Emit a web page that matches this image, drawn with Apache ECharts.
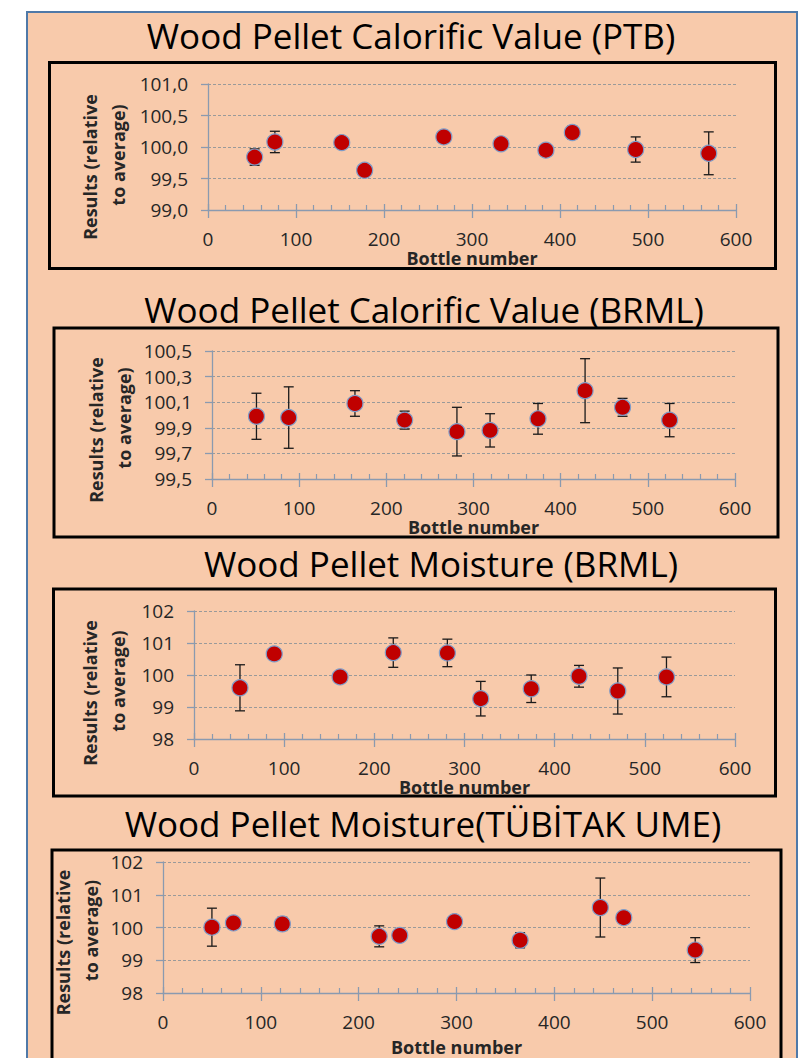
<!DOCTYPE html>
<html>
<head>
<meta charset="utf-8">
<title>Wood Pellet - homogeneity</title>
<script src="https://cdn.jsdelivr.net/npm/echarts@6/dist/echarts.min.js"></script>
<style>
  html, body { margin: 0; padding: 0; background: #fff; }
  #main { width: 800px; height: 1058px; }
</style>
</head>
<body>
<div id="main"></div>
<script>
// ---- data ----
// calorific value, PTB
var ptbBottle = [53, 76, 152, 178, 268, 333, 384, 414, 486, 569];
var ptbResult = [99.84, 100.08, 100.07, 99.63, 100.16, 100.05, 99.95, 100.23, 99.96, 99.90];
var ptbUnc    = [0.13, 0.17, 0.05, 0.05, 0.05, 0.05, 0.05, 0.10, 0.20, 0.34];

// calorific value, BRML
var brmlCalBottle = [51, 88, 164, 221, 281, 319, 374, 428, 471, 525];
var brmlCalResult = [99.99, 99.98, 100.09, 99.96, 99.87, 99.88, 99.97, 100.19, 100.06, 99.96];
var brmlCalUnc    = [0.18, 0.24, 0.10, 0.07, 0.19, 0.13, 0.12, 0.25, 0.07, 0.13];

// moisture, BRML
var brmlMoistBottle = [51, 89, 162, 221, 281, 318, 374, 427, 470, 524];
var brmlMoistResult = [99.60, 100.66, 99.94, 100.70, 100.69, 99.26, 99.57, 99.96, 99.50, 99.94];
var brmlMoistUnc    = [0.72, 0.10, 0.10, 0.46, 0.43, 0.54, 0.43, 0.34, 0.72, 0.62];

// moisture, TÜBİTAK UME
var umeBottle = [50, 72, 122, 221, 242, 298, 365, 447, 471, 544];
var umeResult = [100.01, 100.14, 100.11, 99.73, 99.76, 100.18, 99.61, 100.61, 100.30, 99.31];
var umeUnc    = [0.58, 0.10, 0.20, 0.32, 0.10, 0.10, 0.23, 0.90, 0.10, 0.38];

var titles = [
  'Wood Pellet Calorific Value (PTB)',
  'Wood Pellet Calorific Value (BRML)',
  'Wood Pellet Moisture (BRML)',
  'Wood Pellet Moisture(TÜBİTAK UME)'
];
var xName = 'Bottle number';
var yName = '{a|Results (relative}\n{b|to average)}';

// ---- layout ----
var FONT = 'Open Sans';
var panels = [
  { bottle: ptbBottle, result: ptbResult, unc: ptbUnc, ymin: 99, ymax: 101, step: 0.5, dec: 1,
    tx: 406, ty: 13, box: [49.5, 62.5, 726, 206], grid: [208, 84, 528, 126], yGap: 76, yShift: 40, xGap: 37 },
  { bottle: brmlCalBottle, result: brmlCalResult, unc: brmlCalUnc, ymin: 99.5, ymax: 100.5, step: 0.2, dec: 1,
    tx: 419, ty: 287, box: [54, 328, 724, 209], grid: [212, 351, 523, 128], yGap: 73, yShift: 30, xGap: 38 },
  { bottle: brmlMoistBottle, result: brmlMoistResult, unc: brmlMoistUnc, ymin: 98, ymax: 102, step: 1, dec: 0,
    tx: 436, ty: 541, box: [53.5, 589, 722, 207], grid: [194, 611, 541, 128], yGap: 62, yShift: 36, xGap: 33 },
  { bottle: umeBottle, result: umeResult, unc: umeUnc, ymin: 98, ymax: 102, step: 1, dec: 0,
    tx: 418, ty: 801, box: [52, 850, 729, 230], grid: [163, 862, 587, 131], yGap: 53, yShift: 30, xGap: 46 }
];

var axisGrey = '#8a9ab0';
var labelCol = '#262626';

function errorBar(params, api) {
  var x = api.value(0);
  var a = api.coord([x, api.value(2)]);
  var b = api.coord([x, api.value(1)]);
  var st = { stroke: '#1a1a1a', lineWidth: 1.3 };
  return {
    type: 'group',
    children: [
      { type: 'line', shape: { x1: a[0], y1: a[1], x2: b[0], y2: b[1] }, style: st },
      { type: 'line', shape: { x1: a[0] - 5, y1: a[1], x2: a[0] + 5, y2: a[1] }, style: st },
      { type: 'line', shape: { x1: b[0] - 5, y1: b[1], x2: b[0] + 5, y2: b[1] }, style: st }
    ]
  };
}

var option = {
  backgroundColor: '#fff',
  animation: false,
  textStyle: { fontFamily: FONT },
  title: [],
  grid: [],
  xAxis: [],
  yAxis: [],
  series: [],
  graphic: [{
    type: 'rect', z: -10,
    shape: { x: 27, y: 12, width: 770, height: 1070 },
    style: { fill: '#f8caab', stroke: '#4f79a8', lineWidth: 2 }
  }]
};

panels.forEach(function (p, i) {
  option.title.push({
    text: titles[i], left: p.tx, top: p.ty, textAlign: 'center',
    textStyle: { fontFamily: FONT, fontSize: 35, fontWeight: 'normal', color: '#000' }
  });
  option.graphic.push({
    type: 'rect', z: -5,
    shape: { x: p.box[0], y: p.box[1], width: p.box[2], height: p.box[3] },
    style: { fill: 'none', stroke: '#000', lineWidth: 3 }
  });
  option.grid.push({ left: p.grid[0], top: p.grid[1], width: p.grid[2], height: p.grid[3] });

  // main x axis: line, labels, ticks hanging below
  option.xAxis.push({
    type: 'value', gridIndex: i, min: 0, max: 600, interval: 100, position: 'bottom',
    name: xName, nameLocation: 'middle', nameGap: p.xGap,
    nameTextStyle: { fontFamily: FONT, fontSize: 18, fontWeight: 'bold', color: labelCol, lineHeight: 16 },
    axisLine: { show: true, onZero: false, lineStyle: { color: axisGrey, width: 1.3 } },
    axisTick: { show: true, inside: false, length: 8, lineStyle: { color: axisGrey, width: 1.3 } },
    axisLabel: { margin: 21, fontFamily: FONT, fontSize: 19, color: labelCol, lineHeight: 16 },
    splitLine: { show: false }
  });
  // second x axis on same place: ticks pointing up + minor ticks
  option.xAxis.push({
    type: 'value', gridIndex: i, min: 0, max: 600, interval: 100, position: 'bottom',
    axisLine: { show: false, onZero: false },
    axisTick: { show: true, inside: true, length: 6, lineStyle: { color: axisGrey, width: 1.3 } },
    minorTick: { show: true, splitNumber: 5, length: 5, lineStyle: { color: axisGrey, width: 1.2 } },
    axisLabel: { show: false },
    splitLine: { show: false }
  });
  option.yAxis.push({
    type: 'value', gridIndex: i, min: p.ymin, max: p.ymax, interval: p.step,
    name: yName, nameLocation: 'middle', nameGap: p.yGap, nameRotate: 90,
    nameTextStyle: {
      padding: [0, p.yShift, 0, 0],
      rich: {
        a: { fontFamily: FONT, fontSize: 18, fontWeight: 'bold', color: labelCol, lineHeight: 28 },
        b: { fontFamily: FONT, fontSize: 18, fontWeight: 'bold', color: labelCol, lineHeight: 28, padding: [0, 0, 0, 24] }
      }
    },
    axisLine: { show: true, onZero: false, lineStyle: { color: axisGrey, width: 1.3 } },
    axisTick: { show: true, length: 7, lineStyle: { color: axisGrey, width: 1.3 } },
    axisLabel: {
      margin: 20, fontFamily: FONT, fontSize: 19, color: labelCol,
      formatter: function (v) { return v.toFixed(p.dec).replace('.', ','); }
    },
    splitLine: { show: true, lineStyle: { color: '#9a9a9a', type: [3, 2], width: 1 } }
  });

  option.series.push({
    type: 'custom', xAxisIndex: 2 * i, yAxisIndex: i, z: 2,
    renderItem: errorBar,
    encode: { x: 0, y: [1, 2] },
    data: p.bottle.map(function (b, k) { return [b, p.result[k] - p.unc[k], p.result[k] + p.unc[k]]; })
  });
  option.series.push({
    type: 'scatter', xAxisIndex: 2 * i, yAxisIndex: i, z: 3,
    symbol: 'circle', symbolSize: 16,
    itemStyle: { color: '#c00000', borderColor: '#7f9cc8', borderWidth: 1.2, opacity: 1 },
    data: p.bottle.map(function (b, k) { return [b, p.result[k]]; })
  });
});

var myChart = echarts.init(document.getElementById('main'), null, { renderer: 'svg' });
myChart.setOption(option);
</script>
</body>
</html>
